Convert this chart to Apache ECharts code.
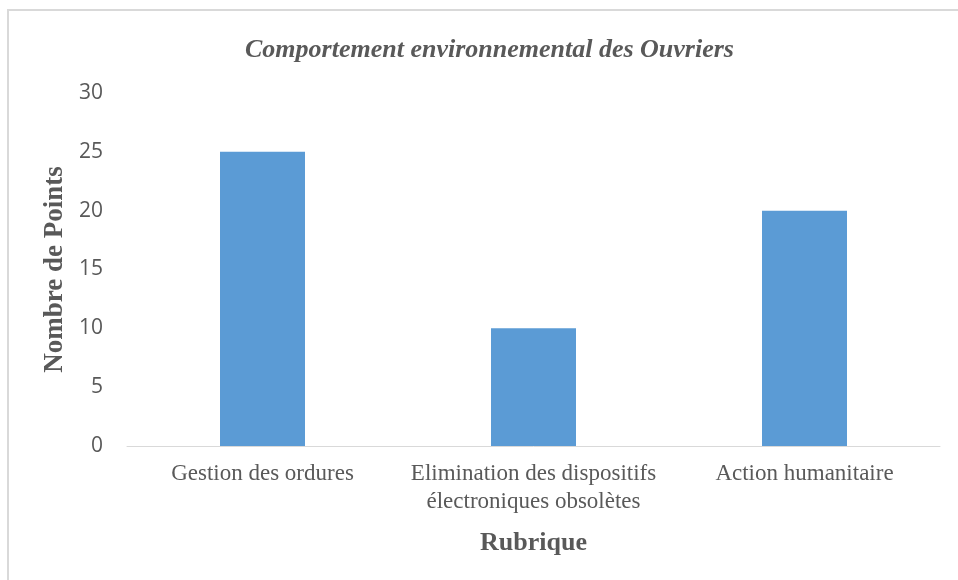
<!DOCTYPE html>
<html><head><meta charset="utf-8">
<script src="https://cdn.jsdelivr.net/npm/echarts@6/dist/echarts.min.js"></script>
<style>html,body{margin:0;padding:0;background:#fff}#c{width:958px;height:580px}</style>
</head><body><div id="c"></div>
<script>
const categories = ["Gestion des ordures", "Elimination des dispositifs\nélectroniques obsolètes", "Action humanitaire"];
const values = [25, 10, 20];
const yTicks = [0, 5, 10, 15, 20, 25, 30];

const chart = echarts.init(document.getElementById('c'));
chart.setOption({
  animation: false,
  backgroundColor: '#fff',
  graphic: [{
    type: 'rect', shape: {x: 8, y: 10, width: 1000, height: 600},
    style: {fill: 'none', stroke: '#d9d9d9', lineWidth: 2}, silent: true
  }],
  title: {
    text: 'Comportement environnemental des Ouvriers',
    left: 240, top: 32,
    textStyle: {fontFamily: 'Liberation Serif', fontStyle: 'italic', fontWeight: 'bold', fontSize: 26, color: '#595959'}
  },
  grid: {left: 127, right: 18, top: 93, bottom: 134, containLabel: false},
  xAxis: {
    type: 'category', data: categories,
    axisLine: {lineStyle: {color: '#d9d9d9', width: 1}},
    axisTick: {show: false},
    axisLabel: {fontFamily: 'Liberation Serif', fontSize: 23, color: '#595959', margin: 14, lineHeight: 28, interval: 0},
    name: 'Rubrique', nameLocation: 'middle', nameGap: 84,
    nameTextStyle: {fontFamily: 'Liberation Serif', fontWeight: 'bold', fontSize: 26, color: '#595959'}
  },
  yAxis: {
    type: 'value', min: yTicks[0], max: yTicks[yTicks.length-1], interval: 5,
    splitLine: {show: false},
    axisLine: {show: false}, axisTick: {show: false},
    axisLabel: {fontFamily: 'Open Sans', fontSize: 21, color: '#595959', margin: 24},
    name: 'Nombre de Points', nameLocation: 'middle', nameGap: 53,
    nameTextStyle: {fontFamily: 'Liberation Serif', fontWeight: 'bold', fontSize: 27, color: '#595959'}
  },
  series: [{
    type: 'bar', data: values, barWidth: 85,
    itemStyle: {color: '#5B9BD5'}
  }]
});
</script></body></html>
